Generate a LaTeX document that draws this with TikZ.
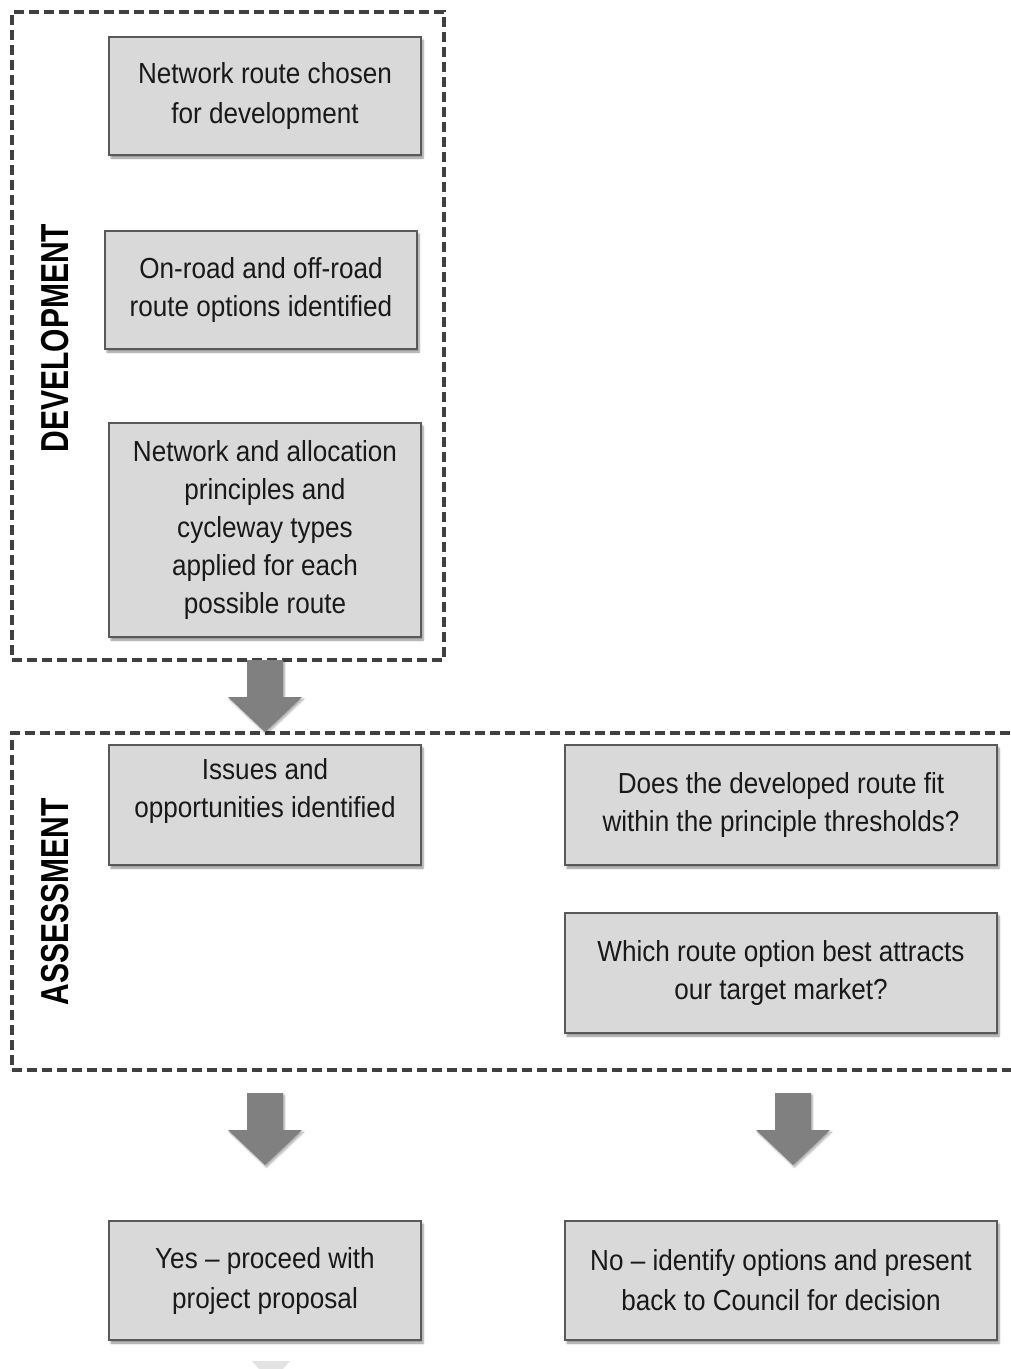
\documentclass[tikz,border=0pt]{standalone}
\usepackage{fontspec}
\setmainfont{Liberation Sans}
\newfontfamily\bodyfont{Liberation Sans}[FakeStretch=0.9]
\newfontfamily\labelfont{Liberation Sans Bold}[FakeStretch=0.77]
\usetikzlibrary{shadows.blur}
\definecolor{boxfill}{HTML}{D9D9D9}
\definecolor{boxline}{HTML}{595959}
\definecolor{dashcol}{HTML}{404040}
\definecolor{arrowfill}{HTML}{808080}
\definecolor{fadearrow}{HTML}{E3E3E3}
\tikzset{
  boxtext/.style={align=center, inner sep=0pt, text=black!90,
    font=\bodyfont\fontsize{29}{38}\selectfont},
  pbox/.style={boxtext, rectangle, draw=boxline, line width=1.6pt, fill=boxfill,
    blur shadow={shadow xshift=2pt, shadow yshift=-3pt, shadow blur steps=6, shadow opacity=45}},
  narrowbox/.style={pbox, minimum width=312pt},
  widebox/.style={pbox, minimum width=432pt},
  container/.style={rectangle, draw=dashcol, line width=3.2pt, dash pattern=on 10pt off 5pt, inner sep=0pt},
  grouplabel/.style={rotate=90, font=\labelfont\fontsize{39}{39}\selectfont, text=black, inner sep=0pt},
  blockarrow/.style={fill=arrowfill,
    blur shadow={shadow xshift=1.5pt, shadow yshift=-2pt, shadow blur steps=5, shadow opacity=35}},
}
\begin{document}
\begin{tikzpicture}[x=1pt,y=-1pt]
\useasboundingbox (0,0) rectangle (1011,1369);

% containers
\node[container, minimum width=432pt, minimum height=648pt] (dev) at (228,336) {};
\node[container, minimum width=1013pt, minimum height=337pt] (assess) at (518.5,901.5) {};

\node[grouplabel] (devlab) at (55,338) {DEVELOPMENT};
\node[grouplabel] (asslab) at (55,902) {ASSESSMENT};

% development boxes
\node[narrowbox, minimum height=118pt] (b1) at (265,96) {Network route chosen\\[2pt]for development};
\node[narrowbox, minimum height=118pt] (b2) at (261,290) {On-road and off-road\\route options identified};
\node[narrowbox, minimum height=214pt] (b3) at (265,530) {Network and allocation\\principles and\\cycleway types\\applied for each\\possible route};

% assessment boxes
\node[narrowbox, minimum height=120pt] (b4) at (265,805) {};
\node[boxtext] (b4text) at (265,791) {Issues and\\opportunities identified};
\node[widebox, minimum height=120pt] (b5) at (781,805) {Does the developed route fit\\within the principle thresholds?};
\node[widebox, minimum height=120pt] (b6) at (781,973) {Which route option best attracts\\our target market?};

% outcomes
\node[narrowbox, minimum height=119pt] (b7) at (265,1280.5) {Yes – proceed with\\[2pt]project proposal};
\node[widebox, minimum height=119pt] (b8) at (781,1280.5) {No – identify options and present\\[2pt]back to Council for decision};

% block arrows
\coordinate (a1) at (265,660);
\coordinate (a2) at (265,1093);
\coordinate (a3) at (793,1093);
\foreach \c in {a1,a2,a3}{
  \fill[blockarrow] (\c) ++(-18,0) -- ++(36,0) -- ++(0,37) -- ++(19,0) -- ++(-37,35) -- ++(-37,-35) -- ++(19,0) -- cycle;
}
% faint arrow head at bottom edge
\coordinate (a4) at (271,1361);
\fill[fadearrow] (a4) ++(-19,0) -- ++(38,0) -- ++(-7,8) -- ++(-24,0) -- cycle;
\end{tikzpicture}
\end{document}
